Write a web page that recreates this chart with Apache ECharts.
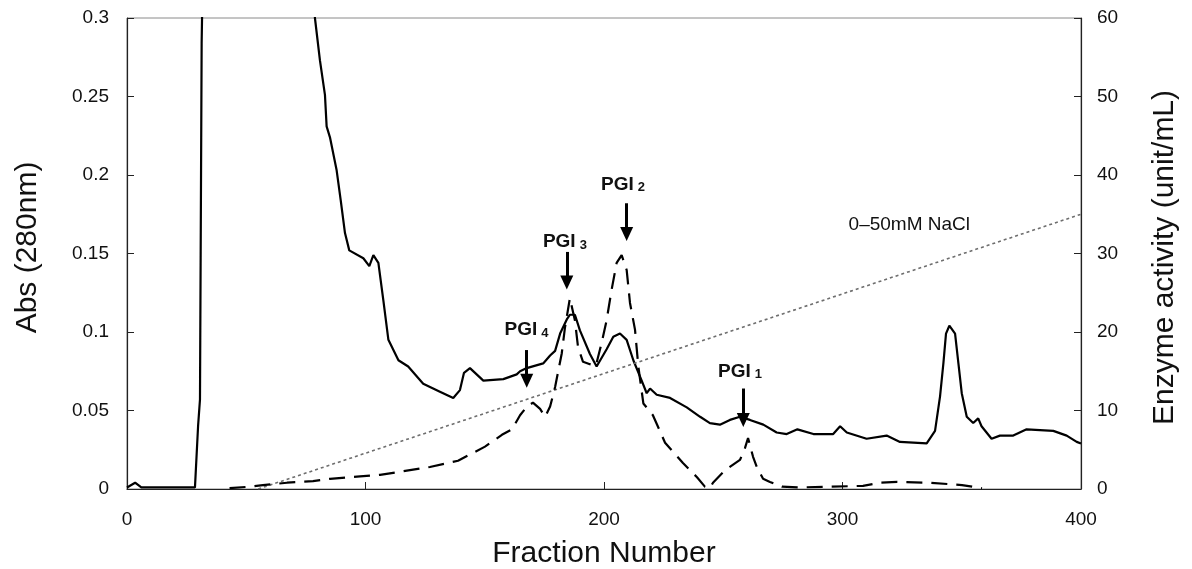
<!DOCTYPE html>
<html>
<head>
<meta charset="utf-8">
<script src="https://cdn.jsdelivr.net/npm/echarts/dist/echarts.min.js"></script>
<style>
  html, body { margin: 0; padding: 0; background: #ffffff; }
  #chart { width: 1192px; height: 569px; }
</style>
</head>
<body>
<div id="chart"></div>
<script>
// Absorbance at 280 nm per fraction [fraction, Abs]
const abs280 = [
  [0, 0.001], [3.4, 0.004], [6, 0.001], [28.5, 0.001], [29.8, 0.04], [30.6, 0.057],
  [31.3, 0.284], [32.5, 0.40], [35, 0.55], [76, 0.40], [78.8, 0.30], [80.9, 0.273],
  [83.0, 0.251], [83.7, 0.231], [85.1, 0.224], [87.9, 0.203], [89.6, 0.184], [91.4, 0.163],
  [93.2, 0.152], [99.1, 0.147], [101.6, 0.142], [103.3, 0.149], [105.4, 0.144], [107.5, 0.120],
  [109.6, 0.095], [113.8, 0.082], [117.9, 0.078], [124.2, 0.067], [131.2, 0.062], [136.8, 0.058],
  [139.6, 0.063], [141.3, 0.074], [143.8, 0.077], [146.6, 0.073], [149.4, 0.069], [157.8, 0.070],
  [163.4, 0.073], [164.8, 0.075], [167.6, 0.077], [174.5, 0.080], [177.4, 0.085], [179.5, 0.088],
  [181.6, 0.099], [184.4, 0.108], [185.7, 0.111], [187.8, 0.111], [189.9, 0.101], [194.1, 0.086],
  [196.9, 0.078], [201.1, 0.089], [203.9, 0.097], [206.7, 0.099], [209.5, 0.095], [212.3, 0.082],
  [215.8, 0.069], [217.9, 0.061], [219.3, 0.064], [222.1, 0.060], [227.7, 0.058], [234.7, 0.052],
  [240.3, 0.046], [244.4, 0.042], [248.6, 0.041], [252.8, 0.044], [257.0, 0.046], [261.2, 0.044],
  [266.8, 0.041], [272.4, 0.036], [276.6, 0.035], [281.1, 0.038], [287.8, 0.035], [296.1, 0.035],
  [299.0, 0.040], [301.8, 0.036], [310.1, 0.032], [318.5, 0.034], [324.1, 0.030], [335.3, 0.029],
  [338.8, 0.037], [340.9, 0.059], [342.3, 0.080], [343.4, 0.099], [344.8, 0.104], [347.2, 0.099],
  [348.6, 0.080], [350.0, 0.061], [352.1, 0.046], [354.8, 0.042], [356.9, 0.045], [358.3, 0.040],
  [360.4, 0.036], [362.5, 0.032], [366.0, 0.034], [371.6, 0.034], [377.2, 0.038], [388.4, 0.037],
  [394.0, 0.034], [398.2, 0.030], [400, 0.029]
];

// PGI enzyme activity per fraction [fraction, unit/mL]
const activity = [
  [43, 0.1], [51.6, 0.3], [57, 0.5], [67.1, 0.8], [78, 1.0], [85.1, 1.3], [97.7, 1.6],
  [106.1, 1.8], [114.5, 2.2], [127, 2.8], [138.8, 3.6], [145.1, 4.6], [150.1, 5.4],
  [157.2, 6.9], [161.4, 7.6], [164.8, 9.4], [167.7, 10.5], [170.2, 11.0], [173.2, 10.2],
  [175.3, 9.2], [177.4, 10.5], [179.5, 13.0], [182.3, 17.3], [183.6, 20.5], [185.7, 24.3],
  [187.8, 21.5], [189.1, 18.1], [191.2, 16.2], [194.1, 15.9], [196.6, 15.7], [199, 18.6],
  [201.1, 21.5], [203.2, 25.4], [205.3, 28.8], [207.4, 29.8], [209.5, 27.9], [210.9, 23.7],
  [213, 20.3], [214.4, 15.6], [216.5, 10.9], [220.5, 9.4], [225.6, 5.9], [233.1, 3.3],
  [239, 1.5], [242.3, 0.3], [244.4, 0.1], [245.7, 0.8], [250.7, 2.4], [257, 3.7],
  [259.1, 5.2], [260.4, 6.5], [262.5, 4.1], [264.2, 2.7], [266.7, 1.3], [269.6, 0.9],
  [274.6, 0.3], [282.1, 0.2], [294.8, 0.3], [308.6, 0.4], [315.7, 0.8], [322.9, 0.9],
  [336.7, 0.8], [350.1, 0.5], [358.5, 0.1]
];

// 0–50 mM NaCl linear gradient, drawn on the activity scale
const nacl = [[55, 0], [400, 35]];
const naclLabel = '0–50mM NaCl';
const naclLabelAt = [328, 33.6];

// Peak annotations: subscript, arrow fraction, arrow start / head (activity scale), label anchor
const pgiSub = ['1', '2', '3', '4'];
const pgiArrowX = [258.4, 209.5, 184.4, 167.6];
const pgiArrowFrom = [12.8, 36.4, 30.2, 17.7];
const pgiArrowHead = [8.8, 32.5, 26.3, 13.8];
const pgiLabelX = [257.0, 208.0, 183.6, 167.5];
const pgiLabelY = [15.0, 38.8, 31.5, 20.3];

// Axis ranges and tick steps
const xRange = [0, 400, 100];
const absRange = [0, 0.3, 0.05];
const actRange = [0, 60, 10];

const FONT = "'Liberation Sans', Arial, sans-serif";
const tickLabel = { color: '#111', fontSize: 19, fontFamily: FONT };
const titleStyle = { color: '#111', fontSize: 30, fontFamily: FONT };

// arrow shafts
const arrowShafts = pgiSub.map((s, i) => [
  { coord: [pgiArrowX[i], pgiArrowFrom[i]] },
  { coord: [pgiArrowX[i], pgiArrowHead[i] + 0.4] }
]);
// arrow heads (downward triangles) and peak names
const arrowHeads = pgiSub.map((s, i) => ({
  coord: [pgiArrowX[i], pgiArrowHead[i]],
  value: s,
  symbol: 'triangle', symbolRotate: 180, symbolSize: [13, 14],
  itemStyle: { color: '#000' },
  label: { show: false }
}));
const pgiLabels = pgiSub.map((s, i) => ({
  coord: [pgiLabelX[i], pgiLabelY[i]],
  value: s,
  symbol: 'circle', symbolSize: 0,
  label: { show: true, formatter: '{a|PGI}{b|' + s + '}' }
}));

const chart = echarts.init(document.getElementById('chart'), null, { renderer: 'canvas' });
chart.setOption({
  animation: false,
  backgroundColor: '#ffffff',
  grid: {
    left: 127, right: 111, top: 18, bottom: 80,
    containLabel: false, outerBoundsMode: 'none',
    show: true, borderColor: '#8a8a8a', borderWidth: 1, backgroundColor: 'transparent'
  },
  xAxis: {
    type: 'value',
    min: xRange[0], max: xRange[1], interval: xRange[2],
    name: 'Fraction Number', nameLocation: 'middle', nameGap: 50,
    nameTextStyle: titleStyle,
    axisLine: { show: true, onZero: false, lineStyle: { color: '#222', width: 1.2 } },
    axisTick: { show: true, inside: true, length: 7, lineStyle: { color: '#222' } },
    axisLabel: Object.assign({ margin: 21 }, tickLabel),
    splitLine: { show: false }
  },
  yAxis: [
    {
      type: 'value', position: 'left',
      min: absRange[0], max: absRange[1], interval: absRange[2],
      name: 'Abs (280nm)', nameLocation: 'middle', nameGap: 84,
      nameTextStyle: Object.assign({ padding: [0, 0, 0, 12] }, titleStyle),
      axisLine: { show: true, lineStyle: { color: '#222', width: 1.2 } },
      axisTick: { show: true, inside: true, length: 7, lineStyle: { color: '#222' } },
      axisLabel: Object.assign({ margin: 18, padding: [4, 0, 0, 0] }, tickLabel),
      splitLine: { show: false }
    },
    {
      type: 'value', position: 'right',
      min: actRange[0], max: actRange[1], interval: actRange[2],
      name: 'Enzyme activity (unit/mL)', nameLocation: 'middle', nameGap: 69,
      nameTextStyle: Object.assign({ padding: [0, 8, 0, 0] }, titleStyle),
      axisLine: { show: true, lineStyle: { color: '#222', width: 1.2 } },
      axisTick: { show: true, inside: true, length: 7, lineStyle: { color: '#222' } },
      axisLabel: Object.assign({ margin: 16, padding: [4, 0, 0, 0] }, tickLabel),
      splitLine: { show: false }
    }
  ],
  series: [
    {
      name: 'Abs (280nm)', type: 'line', yAxisIndex: 0,
      data: abs280, showSymbol: false, clip: true,
      lineStyle: { color: '#000', width: 2.2 }
    },
    {
      name: 'NaCl', type: 'line', yAxisIndex: 1,
      data: nacl, showSymbol: false,
      lineStyle: { color: '#6e6e6e', width: 1.6, type: [3, 3] },
      markPoint: {
        symbol: 'circle', symbolSize: 0, silent: true,
        label: { show: true, position: 'inside', color: '#111', fontSize: 19, fontFamily: FONT, formatter: naclLabel },
        data: [{ coord: naclLabelAt, value: 0 }]
      }
    },
    {
      name: 'Enzyme activity', type: 'line', yAxisIndex: 1,
      data: activity, showSymbol: false,
      lineStyle: { color: '#000', width: 2.2, type: [16, 9] },
      markLine: {
        silent: true, symbol: ['none', 'none'],
        label: { show: false },
        lineStyle: { color: '#000', width: 3, type: 'solid' },
        data: arrowShafts
      },
      markPoint: {
        silent: true,
        label: {
          position: 'inside',
          rich: {
            a: { fontSize: 19, fontWeight: 'bold', color: '#111', fontFamily: FONT, verticalAlign: 'bottom', lineHeight: 20 },
            b: { fontSize: 13, fontWeight: 'bold', color: '#111', fontFamily: FONT, verticalAlign: 'bottom', lineHeight: 20, padding: [0, 0, 0, 4] }
          }
        },
        data: arrowHeads.concat(pgiLabels)
      }
    }
  ]
});
</script>
</body>
</html>
